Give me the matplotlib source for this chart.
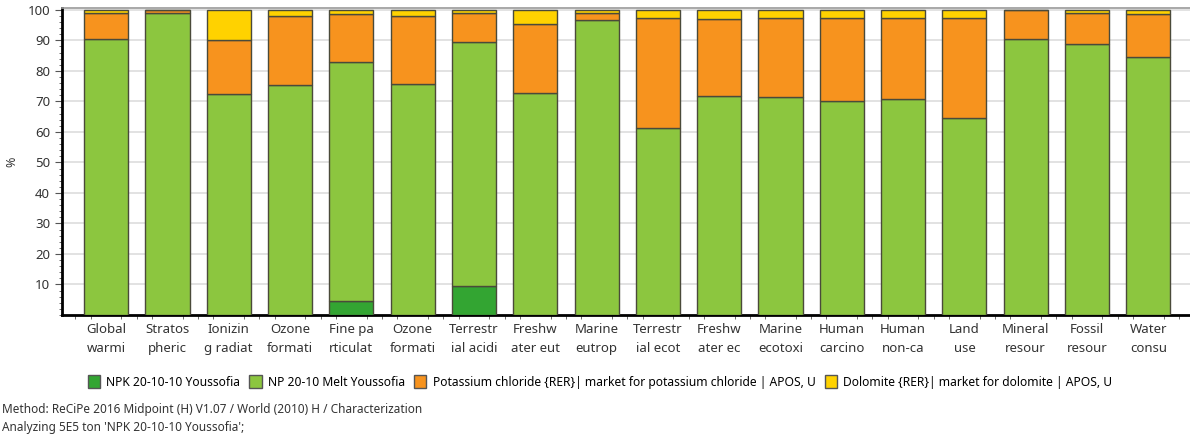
import matplotlib.pyplot as plt
from matplotlib.patches import Patch
from matplotlib.ticker import MultipleLocator
import numpy as np

plt.rcParams['font.family'] = ['Noto Sans', 'DejaVu Sans']

categories = [
    "Global\nwarmi", "Stratos\npheric", "Ionizin\ng radiat", "Ozone\nformati",
    "Fine pa\nrticulat", "Ozone\nformati", "Terrestr\nial acidi", "Freshw\nater eut",
    "Marine\neutrop", "Terrestr\nial ecot", "Freshw\nater ec", "Marine\necotoxi",
    "Human\ncarcino", "Human\nnon-ca", "Land\nuse", "Mineral\nresour",
    "Fossil\nresour", "Water\nconsu",
]

# contribution (%) per process, stacked bottom to top
npk = [0, 0, 0, 0, 4.6, 0, 9.4, 0, 0, 0, 0, 0, 0, 0, 0, 0, 0, 0]
np_melt = [90.4, 98.9, 72.5, 75.4, 78.4, 75.7, 79.9, 72.6, 96.8, 61.3,
           71.6, 71.5, 70.1, 70.8, 64.5, 90.4, 88.8, 84.6]
kcl = [8.5, 0.9, 17.6, 22.6, 15.5, 22.3, 9.6, 22.6, 2.3, 36.0,
       25.4, 25.8, 27.2, 26.5, 32.8, 9.4, 10.1, 13.9]
dolomite = [1.1, 0.2, 9.9, 2.0, 1.5, 2.0, 1.1, 4.8, 0.9, 2.7,
            3.0, 2.7, 2.7, 2.7, 2.7, 0.2, 1.1, 1.5]

series_names = [
    "NPK 20-10-10 Youssofia",
    "NP 20-10 Melt Youssofia",
    "Potassium chloride {RER}| market for potassium chloride | APOS, U",
    "Dolomite {RER}| market for dolomite | APOS, U",
]
colors = ["#33a532", "#8cc63f", "#f7931e", "#ffd200"]

fig = plt.figure(figsize=(11.9, 4.38), dpi=100)
ax = fig.add_axes([62 / 1190, 1 - 315 / 438, (1190 - 62) / 1190, (315 - 8) / 438])

x = np.arange(len(categories))
bottom = np.zeros(len(categories))
for vals, col in zip([npk, np_melt, kcl, dolomite], colors):
    vals = np.array(vals)
    ax.bar(x, vals, bottom=bottom, width=0.72, color=col,
           edgecolor="#4a4a3a", linewidth=1.0, zorder=3)
    bottom += vals

ax.set_xlim(-0.72, 17.68)
ax.set_ylim(0, 100.6)
ax.set_yticks(range(10, 101, 10))
ax.yaxis.set_minor_locator(MultipleLocator(2))
ax.set_xticks(x)
ax.set_xticklabels(categories, fontsize=9.5, color="#333333", linespacing=1.6)
ax.xaxis.set_minor_locator(MultipleLocator(0.25))
ax.tick_params(axis='x', which='major', length=0, pad=6)
ax.tick_params(axis='x', which='minor', length=3, color="#555555")
ax.tick_params(axis='y', which='major', length=5, labelsize=9.5, labelcolor="#333333", color="#555555")
ax.tick_params(axis='y', which='minor', length=2, color="#555555")
ax.grid(axis='y', color="#dddddd", linewidth=1.2, zorder=0)
ax.set_axisbelow(True)

ax.spines['left'].set_linewidth(2)
ax.spines['bottom'].set_linewidth(2)
ax.spines['top'].set_color("#999999")
ax.spines['top'].set_linewidth(1.2)
ax.spines['right'].set_visible(False)

ax.set_ylabel("%", fontsize=9, color="#333333")
ax.yaxis.set_label_coords(-0.039, 0.5)

handles = [Patch(facecolor=c, edgecolor="#555555", linewidth=1) for c in colors]
fig.legend(handles, series_names, loc="center", bbox_to_anchor=(600 / 1190, 1 - 382 / 438),
           ncol=4, frameon=False, fontsize=8.7, handlelength=1.0, handleheight=1.2,
           handletextpad=0.5, columnspacing=0.8)

fig.text(2 / 1190, 1 - 409 / 438, "Method: ReCiPe 2016 Midpoint (H) V1.07 / World (2010) H / Characterization",
         fontsize=8.5, color="#333333", va="center")
fig.text(2 / 1190, 1 - 427 / 438, "Analyzing 5E5 ton 'NPK 20-10-10 Youssofia';",
         fontsize=8.5, color="#333333", va="center")

fig.savefig("out.png", dpi=100)
